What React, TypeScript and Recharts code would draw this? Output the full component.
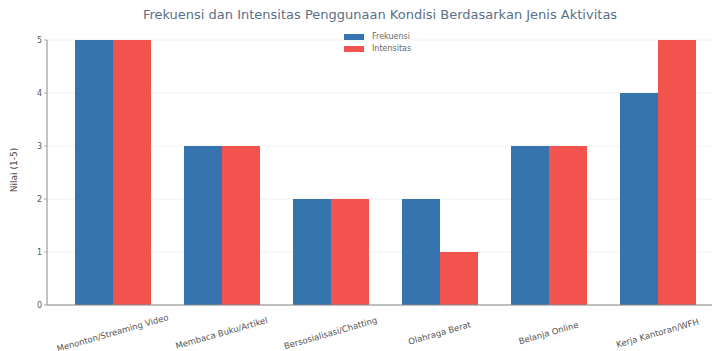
import React from "react";
import { BarChart, Bar, XAxis, YAxis, CartesianGrid } from "recharts";

const categories = [
  "Menonton/Streaming Video",
  "Membaca Buku/Artikel",
  "Bersosialisasi/Chatting",
  "Olahraga Berat",
  "Belanja Online",
  "Kerja Kantoran/WFH",
];
const frekuensi = [5, 3, 2, 2, 3, 4];
const intensitas = [5, 3, 2, 1, 3, 5];
const yTicks = [0, 1, 2, 3, 4, 5];
const seriesNames = ["Frekuensi", "Intensitas"];

const data = categories.map((c, i) => ({ name: c, frekuensi: frekuensi[i], intensitas: intensitas[i] }));

const BLUE = "#3674b0";
const RED = "#f2534e";
const FONT = "DejaVu Sans";

const XTick = (props: any) => {
  const { x, y, payload } = props;
  return (
    <g transform={`translate(${x},${y + 20})`}>
      <text transform="rotate(-16)" textAnchor="middle" fontSize={8.5} fill="#555" dy={3} fontFamily={FONT}>
        {payload.value}
      </text>
    </g>
  );
};

export default function App() {
  return (
    <div style={{ position: "absolute", left: 0, top: 0, background: "#fff", width: 718, height: 351 }}>
      <BarChart
        width={718}
        height={351}
        data={data}
        margin={{ top: 40, right: 6, bottom: 0, left: 0 }}
        barCategoryGap={17}
        barGap={0}
      >
        <text x={380} y={19} textAnchor="middle" fontSize={13} fill="#5a6f86" fontFamily={FONT}>
          Frekuensi dan Intensitas Penggunaan Kondisi Berdasarkan Jenis Aktivitas
        </text>
        <text
          x={17}
          y={170}
          textAnchor="middle"
          fontSize={9}
          fill="#444"
          fontFamily={FONT}
          transform="rotate(-90 17 170)"
        >
          Nilai (1-5)
        </text>
        <CartesianGrid vertical={false} stroke="#f0f0f0" />
        <XAxis
          dataKey="name"
          height={46}
          tick={<XTick />}
          tickLine={false}
          axisLine={{ stroke: "#888" }}
          padding={{ left: 11, right: 0 }}
          interval={0}
        />
        <YAxis
          width={47}
          domain={[0, 5]}
          ticks={yTicks}
          tick={{ fontSize: 8, fill: "#555", fontFamily: FONT }}
          tickLine={{ stroke: "#aaa" }}
          tickSize={3}
          axisLine={{ stroke: "#888" }}
        />
        <Bar dataKey="frekuensi" name={seriesNames[0]} fill={BLUE} isAnimationActive={false} />
        <Bar dataKey="intensitas" name={seriesNames[1]} fill={RED} isAnimationActive={false} />
      </BarChart>
      <div
        style={{
          position: "absolute",
          left: 344,
          top: 31,
          fontSize: 8,
          color: "#666",
          fontFamily: FONT,
          lineHeight: "12px",
        }}
      >
        {seriesNames.map((l, i) => (
          <div key={l} style={{ display: "flex", alignItems: "center", height: 12 }}>
            <span
              style={{ display: "inline-block", width: 20, height: 6, background: i === 0 ? BLUE : RED, marginRight: 8 }}
            />
            {l}
          </div>
        ))}
      </div>
    </div>
  );
}
